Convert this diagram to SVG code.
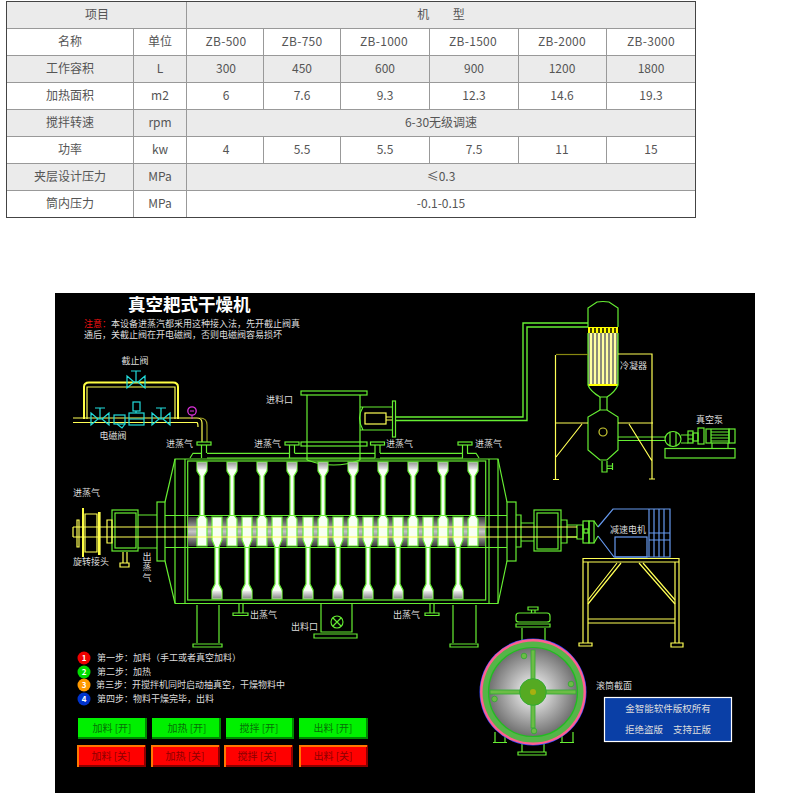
<svg xmlns="http://www.w3.org/2000/svg" width="791" height="795" viewBox="0 0 791 795">
<style>
text{font-family:"Noto Sans CJK SC","Noto Sans",sans-serif}
.t{font-size:12px;fill:#555;text-anchor:middle}
.z{letter-spacing:.3px}
.g{fill:none;stroke:#66ee33;stroke-width:1.2}
.gt{fill:none;stroke:#66ee33;stroke-width:1.4}
.y{fill:none;stroke:#ffff55;stroke-width:1.2}
.yt{fill:none;stroke:#ffff44;stroke-width:2}
.c{fill:none;stroke:#22dddd;stroke-width:1.2}
.b{fill:none;stroke:#6699ee;stroke-width:1.2}
.l{font-size:9px;fill:#dddddd}
.m{font-size:9px;fill:#dddddd;text-anchor:middle}
.on{font-size:10px;fill:#067006;text-anchor:middle}
.off{font-size:10px;fill:#8c0000;text-anchor:middle}
.n{font-size:8px;font-weight:bold;fill:#fff;text-anchor:middle}
</style>
<defs>
<linearGradient id="band" x1="0" y1="0" x2="0" y2="1"><stop offset="0" stop-color="#3c3c3c"/><stop offset=".5" stop-color="#c4c4c4"/><stop offset="1" stop-color="#3c3c3c"/></linearGradient>
<linearGradient id="head" x1="0" y1="0" x2="0" y2="1"><stop offset="0" stop-color="#999"/><stop offset="1" stop-color="#eee"/></linearGradient>
<linearGradient id="headb" x1="0" y1="0" x2="0" y2="1"><stop offset="0" stop-color="#eee"/><stop offset="1" stop-color="#888"/></linearGradient>
<radialGradient id="disc"><stop offset="0" stop-color="#ffffff"/><stop offset="1" stop-color="#707070"/></radialGradient>
<g id="up">
<path d="M-5,462H5V471L2,476V515L5,519V546H-5V519L-2,515V476L-5,471Z" fill="#f8fff4" stroke="#66ee33" stroke-width="1.2"/>
<rect x="-4.500" y="462.500" width="9" height="7" fill="url(#head)"/>
</g>
<g id="down">
<path d="M-5,517H5V540L2,547V584L5,590V599H-5V590L-2,584V547L-5,540Z" fill="#f8fff4" stroke="#66ee33" stroke-width="1.2"/>
<rect x="-4.500" y="591" width="9" height="7.500" fill="url(#headb)"/>
</g>
<g id="inlet">
<path class="g" d="M-2.500,445V458M2.500,445V453"/>
<rect class="g" x="-7" y="442" width="14" height="3"/>
</g>
<g id="bow">
<path class="c" d="M-9,-6L-2,0L-9,6ZM9,-6L2,0L9,6ZM-2,0H2M0,0V-11M-5,-11H5"/>
</g>
</defs>
<rect width="791" height="795" fill="#ffffff"/>

<g id="spec-table">
<g fill="#ebebeb"><rect x="6.500" y="1.500" width="689" height="26.500"/><rect x="6.500" y="55" width="689" height="27"/><rect x="6.500" y="109" width="689" height="27"/><rect x="6.500" y="163" width="689" height="27"/></g>
<path fill="none" stroke="#999" d="M6.500,28.500H695.500M6.500,55.500H695.500M6.500,82.500H695.500M6.500,109.500H695.500M6.500,136.500H695.500M6.500,163.500H695.500M6.500,190.500H695.500M133.500,28V217M186.500,1V217M263.500,28V109M340.500,28V109M429.500,28V109M518.500,28V109M606.500,28V109M263.500,136V163M340.500,136V163M429.500,136V163M518.500,136V163M606.500,136V163"/>
<rect x="6.500" y="1.500" width="689" height="216" fill="none" stroke="#444"/>
<text class="t" x="97" y="19">项目</text><text class="t" x="441" y="19" word-spacing="21">机 型</text>
<text class="t" x="70" y="46">名称</text><text class="t" x="160" y="46">单位</text><text class="t z" x="226" y="46">ZB-500</text><text class="t z" x="302" y="46">ZB-750</text><text class="t z" x="384" y="46">ZB-1000</text><text class="t z" x="473" y="46">ZB-1500</text><text class="t z" x="562" y="46">ZB-2000</text><text class="t z" x="651" y="46">ZB-3000</text>
<text class="t" x="70" y="73">工作容积</text><text class="t" x="160" y="73">L</text><text class="t" x="226" y="73">300</text><text class="t" x="302" y="73">450</text><text class="t" x="385" y="73">600</text><text class="t" x="474" y="73">900</text><text class="t" x="562" y="73">1200</text><text class="t" x="651" y="73">1800</text>
<text class="t" x="70" y="100">加热面积</text><text class="t" x="160" y="100">m2</text><text class="t" x="226" y="100">6</text><text class="t" x="302" y="100">7.6</text><text class="t" x="385" y="100">9.3</text><text class="t" x="474" y="100">12.3</text><text class="t" x="562" y="100">14.6</text><text class="t" x="651" y="100">19.3</text>
<text class="t" x="70" y="127">搅拌转速</text><text class="t" x="160" y="127">rpm</text><text class="t" x="441" y="127">6-30无级调速</text>
<text class="t" x="70" y="154">功率</text><text class="t" x="160" y="154">kw</text><text class="t" x="226" y="154">4</text><text class="t" x="302" y="154">5.5</text><text class="t" x="385" y="154">5.5</text><text class="t" x="474" y="154">7.5</text><text class="t" x="562" y="154">11</text><text class="t" x="651" y="154">15</text>
<text class="t" x="70" y="181">夹层设计压力</text><text class="t" x="160" y="181">MPa</text><text class="t" x="441" y="181">≤0.3</text>
<text class="t" x="70" y="208">筒内压力</text><text class="t" x="160" y="208">MPa</text><text class="t" x="441" y="208">-0.1-0.15</text>
</g>

<rect id="panel" x="55" y="293" width="700" height="500" fill="#000"/>

<g id="heading">
<text x="128" y="311" font-size="17.500" font-weight="bold" fill="#fff">真空耙式干燥机</text>
<text font-size="9" fill="#dddddd"><tspan x="84" y="327"><tspan fill="#ee1111">注意：</tspan>本设备进蒸汽都采用这种接入法，先开截止阀真</tspan><tspan x="84" y="338">通后，关截止阀在开电磁阀，否则电磁阀容易损坏</tspan></text>
</g>

<g id="connectors">
<path class="yt" d="M84,419V387Q84,382.500 89,382.500H173Q178,382.500 178,387V419"/>
<path class="y" d="M87,419V387H175V419"/>
<path class="y" d="M73,418H197Q202,418 202,423V442M73,422.500H197Q198,423 198,427"/>
<path d="M207,442V425Q207,418 200,418" fill="none" stroke="#999922" stroke-width="1.200"/>
<path class="g" d="M207,453.300H289.500M207,458H375M294.500,453.300H375M380,453.300H463M380,458H463"/>
<path class="g" d="M201,453.300H193L190,458M467,453.300H476L479,458"/>
<path class="gt" d="M396,417H523V323H588M396,420.500H527V327H588"/>
<path class="g" d="M618,437H666M618,440.500H666"/>
</g>

<g id="valves">
<use href="#bow" x="136" y="382"/><use href="#bow" x="100" y="419"/><use href="#bow" x="161" y="419"/>
<rect class="c" x="114" y="415" width="11" height="9"/><path class="c" d="M117,424L122,428L125,424"/>
<rect class="c" x="129" y="413" width="15" height="12"/><path class="c" d="M129,419H144M136,413V411"/><rect class="c" x="133" y="402" width="7" height="9"/>
<circle cx="192" cy="411" r="4.200" fill="none" stroke="#dd33dd" stroke-width="1.300"/><path d="M192,415V419M190,411H194" stroke="#dd33dd" fill="none"/>
<text class="m" x="135" y="364">截止阀</text><text class="m" x="113" y="439">电磁阀</text>
</g>

<g id="feed-hopper">
<rect class="g" x="301" y="391" width="66" height="4"/><rect class="g" x="301" y="442" width="66" height="4"/>
<path class="g" d="M307,395V460M360,395V460M307,460Q334,470 360,460"/>
<path class="g" d="M360,407H392M360,430H392M363,407Q356,418 363,430"/>
<rect class="g" x="392.500" y="401" width="3" height="36"/>
<rect class="y" x="365" y="413" width="21" height="11"/><path class="y" d="M386,417H392M386,420H392"/>
<text x="266" y="403" class="l">进料口</text>
</g>

<g id="steam-inlets">
<use href="#inlet" x="204"/><use href="#inlet" x="292"/><use href="#inlet" x="377.500"/><use href="#inlet" x="465"/>
<text class="l" x="166" y="447">进蒸气</text><text class="l" x="254" y="447">进蒸气</text><text class="l" x="386" y="447">进蒸气</text><text class="l" x="475" y="447">进蒸气</text>
</g>

<g id="vessel">
<path class="g" d="M165,502L175,459H498L507,502M165,561L175,603.500H498L507,561"/>
<path class="g" d="M175,459V603M185,459V603M489,459V603M498,459V603"/>
<rect class="g" x="187.700" y="461" width="298" height="139"/>
<rect x="188" y="517" width="297" height="29" fill="url(#band)"/>
<g id="paddles-upper"><use href="#up" x="202"/><use href="#up" x="232"/><use href="#up" x="262"/><use href="#up" x="292"/><use href="#up" x="323"/><use href="#up" x="353"/><use href="#up" x="383"/><use href="#up" x="413"/><use href="#up" x="443"/><use href="#up" x="473"/></g>
<g id="paddles-lower"><use href="#down" x="217"/><use href="#down" x="247"/><use href="#down" x="277"/><use href="#down" x="308"/><use href="#down" x="338"/><use href="#down" x="368"/><use href="#down" x="398"/><use href="#down" x="428"/><use href="#down" x="458"/></g>
<path class="g" d="M138,515H157M138,548H157M165,515.500H507M165,547.500H507"/>
<rect class="g" x="157" y="502" width="8" height="59"/><rect class="g" x="507" y="502" width="9" height="59"/>
<path class="g" d="M197,605V643M219,605V643M453,605V643M476,605V643"/>
<path class="g" d="M193,644H222V647H193ZM450,644H478V647H450Z"/>
<path class="g" d="M239,604V613M243,604V613M233,613H248V615.500H233ZM430,604V613M434,604V613M425,613H439V615.500H425Z"/>
<path class="g" d="M321,604V632H352V604M314,634H357V638H314ZM321,632H352"/>
<circle cx="337" cy="622" r="6" fill="none" stroke="#66ee33" stroke-width="1.100"/><path class="g" d="M333,618L341,626M341,618L333,626"/>
<text class="l" x="291" y="630">出料口</text><text class="l" x="250" y="618">出蒸气</text><text class="l" x="393" y="618">出蒸气</text>
</g>

<g id="rotary-joint">
<rect class="g" x="112" y="510" width="26" height="41"/><rect class="g" x="115" y="513" width="21" height="35"/>
<path class="y" d="M107,520H112V543H107Z"/>
<path class="y" d="M73,527V537M77,520H79V547H77ZM85,514H97V552H85ZM100,512V555"/>
<path class="yt" d="M83,508V557M99,512V555"/>
<path class="y" d="M123,552V563M127,552V563M120,563H129V567H120Z"/>
<text class="l" x="73" y="496">进蒸气</text><text class="l" x="73" y="565">旋转接头</text>
<text x="147" y="552" font-size="9" fill="#dddddd" style="writing-mode:vertical-rl;letter-spacing:1.500px">出蒸气</text>
</g>

<g id="drive">
<path class="g" d="M516,515H521V547H516M521,523H534M521,541H534"/>
<rect class="g" x="534" y="510" width="27" height="41"/><rect class="g" x="537" y="513" width="21" height="36"/>
<path class="g" d="M561,520H567V543H561M567,525H577M567,537H577M577,525H583V539H577V525"/>
<rect class="g" x="583" y="521" width="6" height="22"/><rect class="g" x="589" y="521" width="5" height="22"/><rect class="g" x="584" y="529" width="4" height="4"/>
<path class="g" d="M594,521L598,527M594,543L598,536"/>
<path class="y" d="M73,527H577M73,537H577"/>
</g>

<g id="motor">
<path class="b" d="M598,527L613,509H670V557H614L598,536"/>
<rect class="b" x="615" y="537" width="32" height="20"/>
<path class="b" d="M649,509V557M654,509V557M659,509V557M664,509V557M649,533H670M649,540H670"/>
<text class="m" x="628" y="533">减速电机</text>
<path class="y" d="M583,562V643M588,562V643M675,562V643M679,562V643M583,558.500H679V562H583ZM588,619H675M588,623H675"/>
<path class="y" d="M579,643H592V646H579ZM671,643H683V647H671Z"/>
<path class="y" d="M588,600L617,563M588,604L621,563M639,563L675,604M643,563L675,600"/>
</g>

<g id="condenser">
<path class="g" d="M588,327V308L597,302Q603,301 609,302L618,308V327"/>
<rect x="588" y="327" width="30" height="6" fill="#ffff00"/>
<path d="M591,328V333M595,328V333M599,328V333M603,328V333M607,328V333M611,328V333M615,328V333" stroke="#000" stroke-width="1.500"/>
<rect x="588" y="333" width="30" height="51" fill="#8c8c78"/>
<path d="M591,333V384M595,333V384M599,333V384M603,333V384M607,333V384M611,333V384M615,333V384" stroke="#ffffa0" stroke-width="2"/>
<path d="M588,385H618" stroke="#ffff00" stroke-width="2"/>
<path class="g" d="M588,333V385Q590,391 600,397H607Q615,392 618,385V333"/>
<path class="g" d="M600,397V410M607,397V410"/>
<path class="g" d="M600,410L588,417V450L600,460H607L618,450V417L607,410Z"/>
<circle cx="603" cy="432" r="4" fill="none" stroke="#cccc33" stroke-width="1.200"/>
<path class="g" d="M602,461V472H607V461M607,466H612M607,468.500H612M612.500,463V470"/>
<text class="l" x="620" y="369">冷凝器</text>
<path class="y" d="M618,354H652V479M555.500,355V479M555.500,423H588M618,423H653M582,424L556,457M629,424L652,461M553,479.500H559M649,479H655"/>
<path d="M556,354.500H588" stroke="#888811" stroke-width="1.200"/>
</g>

<g id="vacuum-pump">
<ellipse class="g" cx="673" cy="439" rx="8" ry="7.500"/><path class="g" d="M670,432V446M676,432V446"/>
<path class="g" d="M681,435H688M681,443H688"/>
<rect class="g" x="688" y="431" width="5" height="12"/><path class="g" d="M688,435H693M688,439H693"/>
<rect class="g" x="693" y="433" width="5" height="8"/><rect class="g" x="698" y="428" width="6" height="16"/>
<rect class="g" x="706" y="429" width="23" height="14"/><rect class="g" x="729" y="429" width="6" height="14"/><path class="g" d="M711,429V443M711,432H729M711,435H729M711,438H729M711,441H729"/>
<path class="g" d="M712,443V448M728,443V448"/>
<rect class="g" x="665" y="448.500" width="70" height="9.500"/>
<text class="l" x="696" y="423">真空泵</text>
</g>

<g id="cross-section">
<path class="g" d="M522,640V628M545,640V628M528,613H539M516,616Q516,613 519,613H547Q550,613 550,616V620Q550,622 547,622H519Q516,622 516,620ZM516,624H550V627H516ZM528,607H538V610H528ZM531.500,610V613M535,610V613"/>
<path class="g" d="M495,732V742M505,734V742M562,734V742M573,732V742M493,742.500H507M560,742.500H574"/>
<path class="g" d="M522,743V752M544,743V752M518,752H546V755H518Z"/>
<circle cx="533" cy="692" r="53.500" fill="#3344ff"/>
<circle cx="533" cy="692" r="52.900" fill="#ff6090"/>
<circle cx="533" cy="692" r="50.500" fill="#55b548"/>
<circle cx="533" cy="692" r="44.500" fill="url(#disc)" stroke="#22bb22" stroke-width="1.200"/>
<g fill="#6cbc46" stroke="#2faa2f" stroke-width=".8"><rect x="531" y="650" width="4" height="78"/><rect x="490" y="690" width="86" height="4"/>
<circle cx="524" cy="656" r="2.800"/><circle cx="571" cy="684" r="2.800"/><circle cx="494.500" cy="699" r="2.800"/><circle cx="534" cy="731" r="2.800"/></g>
<circle cx="533" cy="692" r="13.300" fill="#55aa22" stroke="#33aa33"/>
<circle cx="533" cy="692" r="3" fill="#a8b010"/>
<text class="l" x="596" y="689">滚筒截面</text>
</g>

<g id="copyright">
<rect x="604.500" y="697.500" width="127" height="44" fill="#0a3fa6" stroke="#fff" stroke-width="1.200"/>
<text x="668" y="712" text-anchor="middle" font-size="9.500" fill="#dddddd">金智能软件版权所有</text>
<text x="668" y="733" text-anchor="middle" font-size="9.500" fill="#dddddd" word-spacing="8">拒绝盗版 支持正版</text>
</g>

<g id="steps">
<circle cx="84" cy="658" r="6.500" fill="#ee0000"/><text class="n" x="84" y="661">1</text><text class="l" x="97" y="661">第一步：加料（手工或者真空加料）</text>
<circle cx="84" cy="672" r="6.500" fill="#00dd00"/><text class="n" x="84" y="675">2</text><text class="l" x="97" y="675">第二步：加热</text>
<circle cx="84" cy="685" r="6.500" fill="#ff9900"/><text class="n" x="84" y="688">3</text><text class="l" x="96" y="688">第三步：开搅拌机同时启动抽真空，干燥物料中</text>
<circle cx="84" cy="699" r="6.500" fill="#0033cc"/><text class="n" x="84" y="702">4</text><text class="l" x="97" y="702">第四步：物料干燥完毕，出料</text>
</g>

<g id="buttons">
<g fill="#00f000"><rect x="78" y="718" width="68" height="21"/><rect x="152" y="718" width="68" height="21"/><rect x="226" y="718" width="67" height="21"/><rect x="299" y="718" width="68" height="21"/></g>
<path d="M78,738H146V718M152,738H220V718M226,738H293V718M299,738H367V718" fill="none" stroke="#008a00" stroke-width="2"/>
<g fill="#ff0000"><rect x="77" y="745" width="68" height="22"/><rect x="151" y="745" width="68" height="22"/><rect x="224" y="745" width="68" height="22"/><rect x="299" y="745" width="68" height="22"/></g>
<path d="M77,766H145V745M151,766H219V745M224,766H292V745M299,766H367V745" fill="none" stroke="#8c0000" stroke-width="2"/>
<path d="M78,767V746H145M152,767V746H219M225,767V746H292M300,767V746H367" fill="none" stroke="#ff7700" stroke-width="2"/>
<text class="on" x="112" y="732">加料 [开]</text><text class="on" x="187" y="732">加热 [开]</text><text class="on" x="259" y="732">搅拌 [开]</text><text class="on" x="333" y="732">出料 [开]</text>
<text class="off" x="111" y="760">加料 [关]</text><text class="off" x="185" y="760">加热 [关]</text><text class="off" x="257" y="760">搅拌 [关]</text><text class="off" x="333" y="760">出料 [关]</text>
</g>
</svg>
